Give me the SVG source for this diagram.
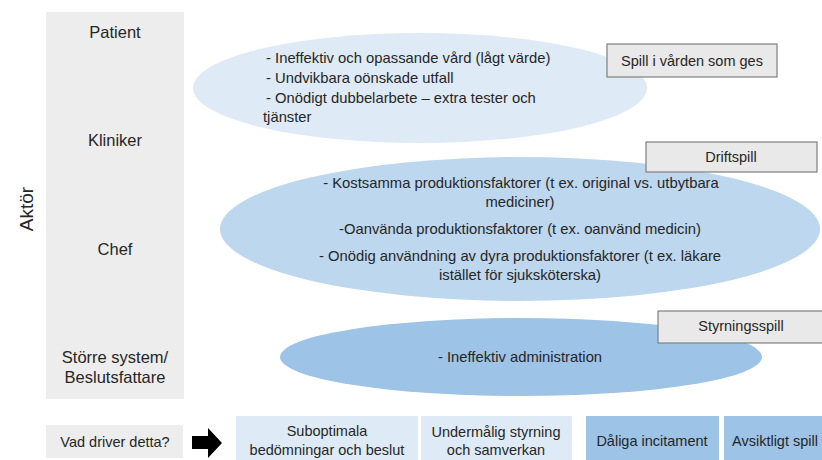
<svg xmlns="http://www.w3.org/2000/svg" width="822" height="460" viewBox="0 0 822 460">
<style>
text{font-family:"Liberation Sans",Arial,sans-serif;fill:#262626;}
.lbl{font-size:16.5px;text-anchor:middle;}
.t{font-size:14.5px;}
.e{font-size:14.8px;}
.c{text-anchor:middle;}
.tag{fill:#e9e9e9;stroke:#7f7f7f;stroke-width:1.2;}
.lt{fill:#deebf7;}
.dk{fill:#9dc3e6;}
</style>
<rect width="822" height="460" fill="#ffffff"/>
<g id="aktor">
<rect x="46" y="12" width="138" height="387" fill="#ededed"/>
<text x="33" y="209" font-size="19" text-anchor="middle" transform="rotate(-90 33 209)">Aktör</text>
<text class="lbl" x="115" y="38">Patient</text>
<text class="lbl" x="115" y="146">Kliniker</text>
<text class="lbl" x="115" y="255">Chef</text>
<text class="lbl" x="115" y="363">Större system/</text>
<text class="lbl" x="115" y="383">Beslutsfattare</text>
</g>
<g id="ellipse-vard">
<ellipse cx="420" cy="88" rx="227" ry="55" fill="#deebf7"/>
<text class="e" x="266" y="63">- Ineffektiv och opassande vård (lågt värde)</text>
<text class="e" x="266" y="83">- Undvikbara oönskade utfall</text>
<text class="e" x="266" y="103">- Onödigt dubbelarbete – extra tester och</text>
<text class="e" x="263" y="122">tjänster</text>
</g>
<g id="ellipse-drift">
<ellipse cx="520" cy="229" rx="300" ry="72" fill="#bdd7ee"/>
<text class="e c" x="521" y="188">- Kostsamma produktionsfaktorer (t ex. original vs. utbytbara</text>
<text class="e c" x="520" y="207">mediciner)</text>
<text class="e c" x="520" y="234">-Oanvända produktionsfaktorer (t ex. oanvänd medicin)</text>
<text class="e c" x="520" y="261">- Onödig användning av dyra produktionsfaktorer (t ex. läkare</text>
<text class="e c" x="520" y="280">istället för sjuksköterska)</text>
</g>
<g id="ellipse-styrning">
<ellipse cx="521" cy="357" rx="241" ry="39" fill="#9dc3e6"/>
<text class="e c" x="520" y="362">- Ineffektiv administration</text>
</g>
<g id="tag-spill">
<rect class="tag" x="607" y="44" width="170" height="33"/>
<text class="t c" x="692" y="66">Spill i vården som ges</text>
</g>
<g id="tag-drift">
<rect class="tag" x="646" y="142" width="171" height="30"/>
<text class="t c" x="731" y="162">Driftspill</text>
</g>
<g id="tag-styrning">
<rect class="tag" x="658" y="311" width="168" height="32"/>
<text class="t c" x="741" y="331">Styrningsspill</text>
</g>
<g id="vad-driver">
<rect x="46" y="425" width="137" height="33" fill="#ededed"/>
<text class="t c" x="115" y="447">Vad driver detta?</text>
</g>
<g id="connectors">
<polygon points="192,436 208,436 208,428 222,443 208,458 208,449 192,449" fill="#000000"/>
</g>
<g id="driver-suboptimala">
<rect class="lt" x="236" y="416" width="182" height="46"/>
<text class="t c" x="327" y="436">Suboptimala</text>
<text class="t c" x="327" y="455">bedömningar och beslut</text>
</g>
<g id="driver-undermalig">
<rect class="lt" x="421" y="416" width="151" height="46"/>
<text class="t c" x="496" y="437">Undermålig styrning</text>
<text class="t c" x="496" y="455">och samverkan</text>
</g>
<g id="driver-incitament">
<rect class="dk" x="586" y="416" width="133" height="46"/>
<text class="t c" x="652" y="446">Dåliga incitament</text>
</g>
<g id="driver-avsiktligt">
<rect class="dk" x="724" y="416" width="102" height="46"/>
<text class="t c" x="775" y="446">Avsiktligt spill</text>
</g>
</svg>
